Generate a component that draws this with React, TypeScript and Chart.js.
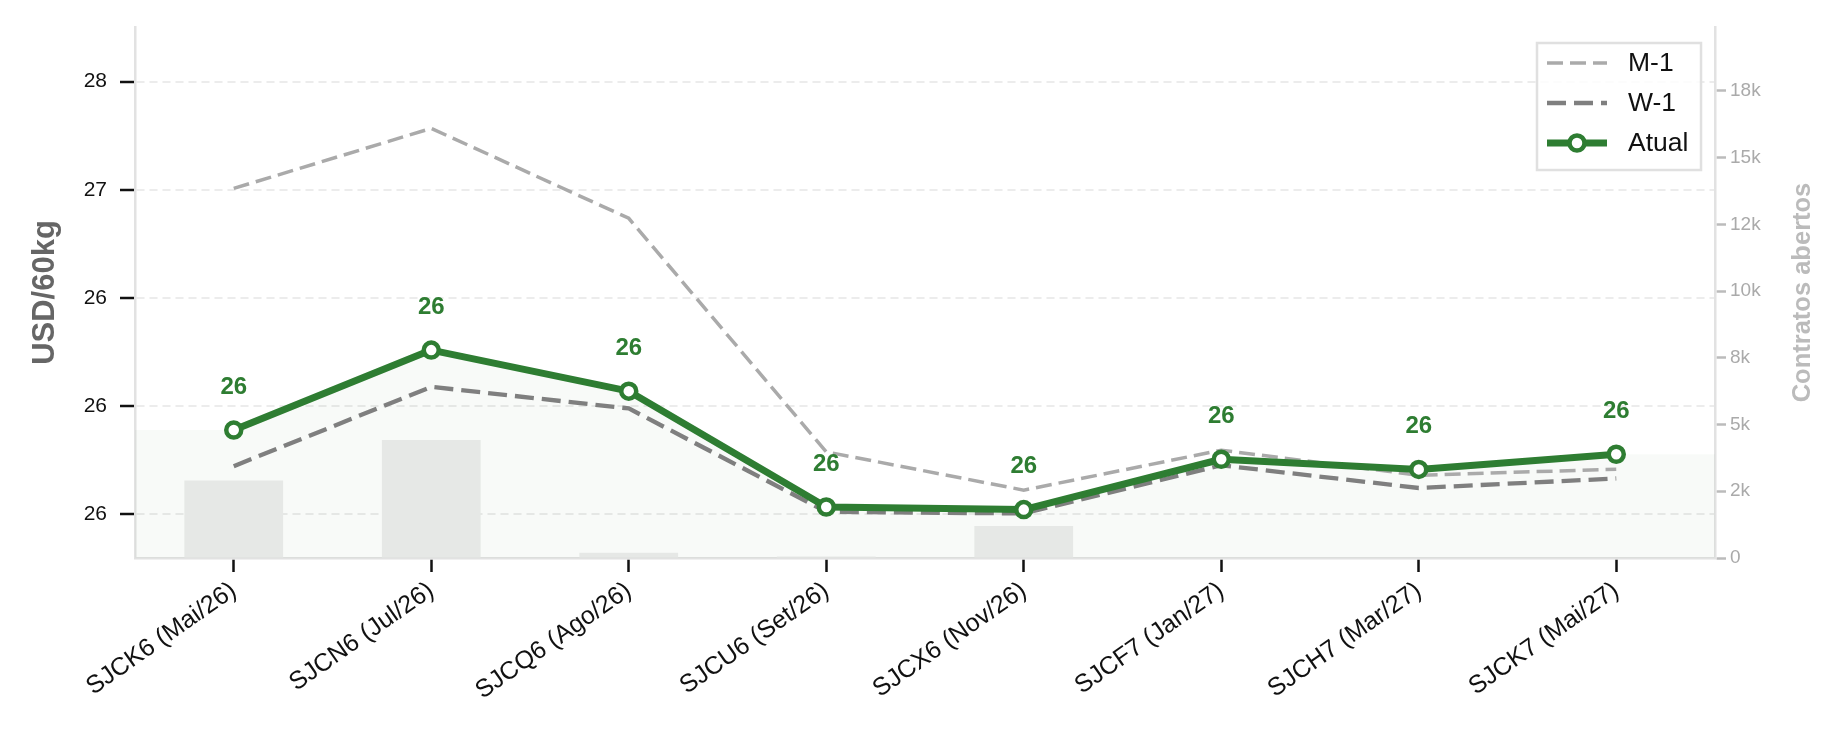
import React, { useEffect, useRef } from 'react';
import { Chart, registerables } from 'chart.js';

Chart.register(...registerables);

const FONT = "'Liberation Sans', Arial, Helvetica, sans-serif";

const categories = [
  'SJCK6 (Mai/26)',
  'SJCN6 (Jul/26)',
  'SJCQ6 (Ago/26)',
  'SJCU6 (Set/26)',
  'SJCX6 (Nov/26)',
  'SJCF7 (Jan/27)',
  'SJCH7 (Mar/27)',
  'SJCK7 (Mai/27)',
];
const atual = [25.888, 26.258, 26.068, 25.532, 25.52, 25.753, 25.706, 25.776];
const m1 = [27.006, 27.284, 26.868, 25.787, 25.61, 25.795, 25.679, 25.707];
const w1 = [25.721, 26.088, 25.988, 25.51, 25.502, 25.725, 25.62, 25.664];
const openInterest = [2900, 4420, 200, 60, 1200, 0, 0, 0];

const leftTickValues = [25.5, 26, 26.5, 27, 27.5];
const leftTickLabels = ['26', '26', '26', '27', '28'];
const rightTickValues = [0, 2500, 5000, 7500, 10000, 12500, 15000, 17500];
const rightTickLabels = ['0', '2k', '5k', '8k', '10k', '12k', '15k', '18k'];
const dataLabels = atual.map((v) => String(Math.round(v)));

const GREEN = '#2e7d32';
const ATUAL_INDEX = 3;

const shadePlugin = {
  id: 'shade',
  beforeDatasetsDraw(chart: any) {
    const meta = chart.getDatasetMeta(ATUAL_INDEX);
    const pts = meta.data;
    if (!pts || !pts.length) return;
    const { left, right, bottom } = chart.chartArea;
    const ctx = chart.ctx;
    ctx.save();
    ctx.beginPath();
    ctx.moveTo(left, bottom);
    ctx.lineTo(left, pts[0].y);
    pts.forEach((p: any) => ctx.lineTo(p.x, p.y));
    ctx.lineTo(right, pts[pts.length - 1].y);
    ctx.lineTo(right, bottom);
    ctx.closePath();
    ctx.fillStyle = 'rgba(46,125,50,0.035)';
    ctx.fill();
    ctx.restore();
  },
};

const labelPlugin = {
  id: 'pointLabels',
  afterDatasetsDraw(chart: any) {
    const meta = chart.getDatasetMeta(ATUAL_INDEX);
    const ctx = chart.ctx;
    ctx.save();
    ctx.font = `bold 24px ${FONT}`;
    ctx.fillStyle = GREEN;
    ctx.textAlign = 'center';
    ctx.textBaseline = 'middle';
    meta.data.forEach((p: any, i: number) => {
      ctx.fillText(dataLabels[i], p.x, p.y - 43);
    });
    ctx.restore();
  },
};

const decorPlugin = {
  id: 'decor',
  afterDraw(chart: any) {
    const ctx = chart.ctx;
    const ca = chart.chartArea;
    const midY = (ca.top + ca.bottom) / 2;
    ctx.save();
    ctx.textAlign = 'center';
    ctx.textBaseline = 'middle';
    ctx.font = `bold 31px ${FONT}`;
    ctx.fillStyle = '#666666';
    ctx.translate(45, midY);
    ctx.rotate(-Math.PI / 2);
    ctx.fillText('USD/60kg', 0, 0);
    ctx.restore();

    ctx.save();
    ctx.textAlign = 'center';
    ctx.textBaseline = 'middle';
    ctx.font = `bold 25.5px ${FONT}`;
    ctx.fillStyle = '#bbbbbb';
    ctx.translate(ca.right + 88, midY);
    ctx.rotate(-Math.PI / 2);
    ctx.fillText('Contratos abertos', 0, 0);
    ctx.restore();

    // legend
    const boxR = ca.right - 14;
    const boxL = boxR - 164;
    const boxT = ca.top + 16;
    const boxB = boxT + 127;
    ctx.save();
    ctx.fillStyle = 'rgba(255,255,255,0.85)';
    ctx.fillRect(boxL, boxT, boxR - boxL, boxB - boxT);
    ctx.strokeStyle = '#e0e0e0';
    ctx.lineWidth = 2.5;
    ctx.strokeRect(boxL, boxT, boxR - boxL, boxB - boxT);
    const ds = chart.data.datasets;
    const entries = [ds[1], ds[2], ds[3]];
    entries.forEach((d: any, i: number) => {
      const y = boxT + 20 + i * 40;
      const x0 = boxL + 10;
      const x1 = boxL + 70;
      ctx.save();
      ctx.strokeStyle = d.borderColor;
      ctx.lineWidth = d.borderWidth;
      ctx.setLineDash(d.borderDash || []);
      ctx.lineCap = 'butt';
      ctx.beginPath();
      ctx.moveTo(x0, y);
      ctx.lineTo(x1, y);
      ctx.stroke();
      ctx.restore();
      if (d.pointRadius > 0) {
        ctx.save();
        ctx.beginPath();
        ctx.arc((x0 + x1) / 2, y, d.pointRadius, 0, Math.PI * 2);
        ctx.fillStyle = '#ffffff';
        ctx.fill();
        ctx.lineWidth = d.pointBorderWidth;
        ctx.strokeStyle = d.pointBorderColor;
        ctx.stroke();
        ctx.restore();
      }
      ctx.save();
      ctx.font = `26.5px ${FONT}`;
      ctx.fillStyle = '#111111';
      ctx.textAlign = 'left';
      ctx.textBaseline = 'middle';
      ctx.fillText(d.label, boxL + 91, y + 1);
      ctx.restore();
    });
    ctx.restore();
  },
};

export default function App() {
  const ref = useRef<HTMLCanvasElement | null>(null);

  useEffect(() => {
    document.body.style.margin = '0';
    const canvas = ref.current;
    if (!canvas) return;
    const chart = new Chart(canvas, {
      type: 'line',
      data: {
        labels: categories,
        datasets: [
          {
            type: 'bar',
            label: 'Contratos abertos',
            data: openInterest,
            yAxisID: 'y1',
            backgroundColor: '#e6e8e6',
            borderWidth: 0,
            barPercentage: 0.5,
            categoryPercentage: 1,
            order: 4,
          } as any,
          {
            type: 'line',
            label: 'M-1',
            data: m1,
            yAxisID: 'y',
            borderColor: '#aaaaaa',
            borderWidth: 3.5,
            borderDash: [16, 7],
            pointRadius: 0,
            fill: false,
            tension: 0,
            order: 3,
          },
          {
            type: 'line',
            label: 'W-1',
            data: w1,
            yAxisID: 'y',
            borderColor: '#7f7f7f',
            borderWidth: 4.3,
            borderDash: [19, 8],
            pointRadius: 0,
            fill: false,
            tension: 0,
            order: 2,
          },
          {
            type: 'line',
            label: 'Atual',
            data: atual,
            yAxisID: 'y',
            borderColor: GREEN,
            borderWidth: 7,
            borderJoinStyle: 'round',
            pointRadius: 7.5,
            pointBorderWidth: 4.5,
            pointBackgroundColor: '#ffffff',
            pointBorderColor: GREEN,
            pointHoverRadius: 7.5,
            fill: false,
            tension: 0,
            order: 1,
          },
        ],
      },
      options: {
        responsive: false,
        animation: false,
        devicePixelRatio: 1,
        layout: { padding: { top: 27, left: 0, right: 0, bottom: 0 } },
        plugins: {
          legend: { display: false },
          tooltip: { enabled: false },
          title: { display: false },
        },
        scales: {
          x: {
            type: 'category',
            offset: true,
            grid: {
              display: true,
              drawOnChartArea: false,
              drawTicks: true,
              tickLength: 14,
              tickWidth: 2.5,
              tickColor: '#111111',
              offset: false,
            },
            border: { display: true, color: '#e2e2e2', width: 2.5 },
            ticks: {
              font: { family: FONT, size: 25 },
              color: '#111111',
              minRotation: 35,
              maxRotation: 35,
              autoSkip: false,
              padding: 4,
            },
            afterFit: (s: any) => {
              s.height = 176;
            },
          },
          y: {
            type: 'linear',
            position: 'left',
            min: 25.296,
            max: 27.753,
            afterBuildTicks: (s: any) => {
              s.ticks = leftTickValues.map((v) => ({ value: v }));
            },
            ticks: {
              font: { family: FONT, size: 21 },
              color: '#111111',
              padding: 13,
              callback: (v: any) => leftTickLabels[leftTickValues.indexOf(Number(v))],
            },
            grid: {
              color: '#ececec',
              lineWidth: 2,
              drawTicks: true,
              tickLength: 15,
              tickWidth: 2.5,
              tickColor: '#111111',
              tickBorderDash: [],
            },
            border: { display: true, color: '#e2e2e2', width: 2.5, dash: [8, 5] },
            afterFit: (s: any) => {
              s.width = 135;
            },
          },
          y1: {
            type: 'linear',
            position: 'right',
            min: 0,
            max: 19890,
            afterBuildTicks: (s: any) => {
              s.ticks = rightTickValues.map((v) => ({ value: v }));
            },
            ticks: {
              font: { family: FONT, size: 19 },
              color: '#aaaaaa',
              padding: 4,
              callback: (v: any) => rightTickLabels[rightTickValues.indexOf(Number(v))],
            },
            grid: {
              drawOnChartArea: false,
              drawTicks: true,
              tickLength: 11,
              tickWidth: 2.5,
              tickColor: '#bbbbbb',
            },
            border: { display: true, color: '#e2e2e2', width: 2.5 },
            afterFit: (s: any) => {
              s.width = 131;
            },
          },
        },
      } as any,
      plugins: [shadePlugin, labelPlugin, decorPlugin],
    });
    return () => chart.destroy();
  }, []);

  return (
    <div style={{ position: 'fixed', left: 0, top: 0, width: 1846, height: 734, background: '#ffffff' }}>
      <canvas ref={ref} width={1846} height={734} style={{ display: 'block', width: 1846, height: 734 }} />
    </div>
  );
}
